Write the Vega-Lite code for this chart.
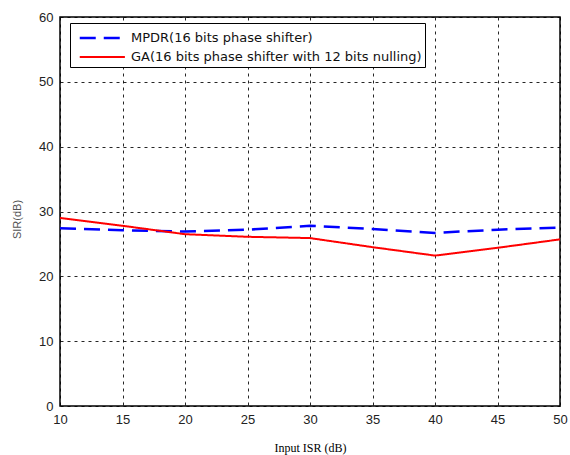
{
  "$schema": "https://vega.github.io/schema/vega-lite/v6.json",
  "width": 500,
  "height": 389,
  "autosize": "none",
  "padding": {"left": 60, "top": 17, "right": 10, "bottom": 49},
  "background": "white",
  "data": {
    "values": [
      {"isr": 10, "sir": 27.4, "series": "MPDR(16 bits phase shifter)"},
      {"isr": 15, "sir": 27.1, "series": "MPDR(16 bits phase shifter)"},
      {"isr": 20, "sir": 26.9, "series": "MPDR(16 bits phase shifter)"},
      {"isr": 25, "sir": 27.2, "series": "MPDR(16 bits phase shifter)"},
      {"isr": 30, "sir": 27.8, "series": "MPDR(16 bits phase shifter)"},
      {"isr": 35, "sir": 27.3, "series": "MPDR(16 bits phase shifter)"},
      {"isr": 40, "sir": 26.7, "series": "MPDR(16 bits phase shifter)"},
      {"isr": 45, "sir": 27.2, "series": "MPDR(16 bits phase shifter)"},
      {"isr": 50, "sir": 27.5, "series": "MPDR(16 bits phase shifter)"},
      {"isr": 10, "sir": 29.0, "series": "GA(16 bits phase shifter with 12 bits nulling)"},
      {"isr": 15, "sir": 27.8, "series": "GA(16 bits phase shifter with 12 bits nulling)"},
      {"isr": 20, "sir": 26.5, "series": "GA(16 bits phase shifter with 12 bits nulling)"},
      {"isr": 25, "sir": 26.1, "series": "GA(16 bits phase shifter with 12 bits nulling)"},
      {"isr": 30, "sir": 25.9, "series": "GA(16 bits phase shifter with 12 bits nulling)"},
      {"isr": 35, "sir": 24.5, "series": "GA(16 bits phase shifter with 12 bits nulling)"},
      {"isr": 40, "sir": 23.2, "series": "GA(16 bits phase shifter with 12 bits nulling)"},
      {"isr": 45, "sir": 24.4, "series": "GA(16 bits phase shifter with 12 bits nulling)"},
      {"isr": 50, "sir": 25.7, "series": "GA(16 bits phase shifter with 12 bits nulling)"}
    ]
  },
  "mark": {"type": "line", "clip": true},
  "encoding": {
    "x": {
      "field": "isr", "type": "quantitative",
      "scale": {"domain": [10, 50], "nice": false, "zero": false},
      "axis": {
        "title": "Input ISR (dB)", "values": [10, 15, 20, 25, 30, 35, 40, 45, 50],
        "titleFont": "Liberation Serif", "titleFontSize": 12, "titleFontWeight": "normal",
        "titleColor": "#000", "titlePadding": 16,
        "labelFont": "Liberation Sans", "labelFontSize": 13, "labelColor": "#222",
        "labelPadding": 7, "ticks": false, "labelFlush": false, "labelOverlap": false,
        "domain": false,
        "grid": true, "gridColor": "#000", "gridDash": [3, 4], "gridWidth": 1, "gridOpacity": 0.85
      }
    },
    "y": {
      "field": "sir", "type": "quantitative",
      "scale": {"domain": [0, 60], "nice": false},
      "axis": {
        "title": "SIR(dB)", "values": [0, 10, 20, 30, 40, 50, 60],
        "titleFont": "Liberation Sans", "titleFontSize": 11, "titleFontWeight": "normal",
        "titleColor": "#555", "titlePadding": 16, "titleY": 202,
        "labelFont": "Liberation Sans", "labelFontSize": 13, "labelColor": "#222",
        "labelPadding": 7, "ticks": false, "labelFlush": false, "labelOverlap": false,
        "domain": false,
        "grid": true, "gridColor": "#000", "gridDash": [3, 4], "gridWidth": 1, "gridOpacity": 0.85
      }
    },
    "color": {
      "field": "series", "type": "nominal",
      "scale": {
        "domain": ["MPDR(16 bits phase shifter)", "GA(16 bits phase shifter with 12 bits nulling)"],
        "range": ["#0000ff", "#ff0000"]
      },
      "legend": {
        "title": null, "orient": "none", "legendX": 10, "legendY": 6,
        "symbolType": "M-0.5,0H3.8", "symbolSize": 441, "symbolStrokeWidth": 2.5,
        "labelFont": "DejaVu Sans", "labelFontSize": 13, "labelColor": "#111",
        "labelOffset": 34, "padding": 3, "rowPadding": 0.5,
        "labelExpr": "datum.label + '\u00a0'",
        "strokeColor": "#000", "fillColor": "#fff", "labelLimit": 400
      }
    },
    "strokeDash": {
      "field": "series", "type": "nominal",
      "scale": {
        "domain": ["MPDR(16 bits phase shifter)", "GA(16 bits phase shifter with 12 bits nulling)"],
        "range": [[16, 8], [1, 0]]
      },
      "legend": null
    },
    "strokeWidth": {
      "field": "series", "type": "nominal",
      "scale": {
        "domain": ["MPDR(16 bits phase shifter)", "GA(16 bits phase shifter with 12 bits nulling)"],
        "range": [2.5, 2]
      },
      "legend": null
    }
  },
  "config": {
    "view": {"stroke": "#000", "strokeWidth": 1.5}
  }
}
